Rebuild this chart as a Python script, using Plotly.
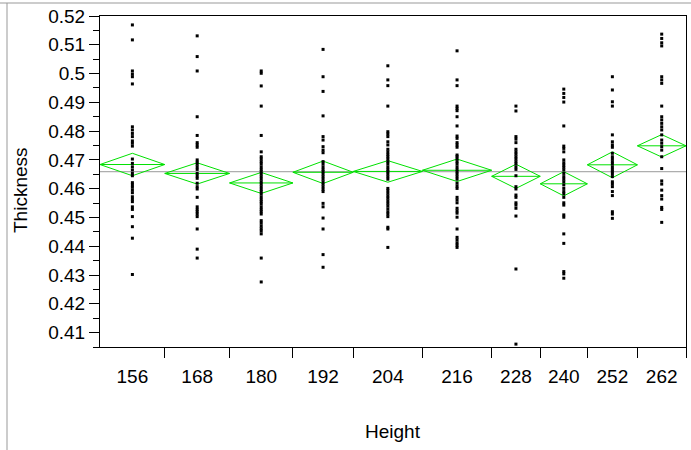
import plotly.graph_objects as go
import numpy as np

# ---------------- data ----------------
heights = ["156", "168", "180", "192", "204", "216", "228", "240", "252", "262"]
group_n = [44, 44, 43, 41, 47, 47, 33, 32, 34, 33]   # sample sizes (x axis proportional)

thk_156 = [0.5169, 0.5117, 0.5009, 0.4998, 0.4989, 0.4964, 0.4815, 0.4804, 0.4792, 0.4781,
           0.4766, 0.4758, 0.4748, 0.4703, 0.4688, 0.4676, 0.4665, 0.4653, 0.4645, 0.4621,
           0.4613, 0.4605, 0.4595, 0.4586, 0.4572, 0.4563, 0.4555, 0.4537, 0.4528, 0.4503,
           0.4468, 0.4428, 0.4302]
thk_168 = [0.5131, 0.5059, 0.5009, 0.4850, 0.4785, 0.4760, 0.4752, 0.4744, 0.4700, 0.4692,
           0.4685, 0.4676, 0.4667, 0.4653, 0.4644, 0.4636, 0.4619, 0.4607, 0.4599, 0.4570,
           0.4537, 0.4528, 0.4520, 0.4512, 0.4503, 0.4460, 0.4390, 0.4359]
thk_180 = [0.5009, 0.5001, 0.4957, 0.4887, 0.4785, 0.4728, 0.4711, 0.4703, 0.4694, 0.4686,
           0.4676, 0.4667, 0.4659, 0.4651, 0.4642, 0.4633, 0.4624, 0.4616, 0.4607, 0.4598,
           0.4590, 0.4582, 0.4572, 0.4563, 0.4555, 0.4547, 0.4537, 0.4528, 0.4520, 0.4512,
           0.4489, 0.4480, 0.4470, 0.4461, 0.4453, 0.4443, 0.4359, 0.4276]
thk_192 = [0.5084, 0.4989, 0.4938, 0.4853, 0.4781, 0.4769, 0.4746, 0.4734, 0.4725, 0.4694,
           0.4686, 0.4676, 0.4667, 0.4659, 0.4651, 0.4642, 0.4633, 0.4624, 0.4616, 0.4607,
           0.4598, 0.4590, 0.4549, 0.4537, 0.4498, 0.4460, 0.4371, 0.4327]
thk_204 = [0.5027, 0.4978, 0.4958, 0.4887, 0.4798, 0.4790, 0.4781, 0.4763, 0.4752, 0.4737,
           0.4728, 0.4719, 0.4711, 0.4703, 0.4694, 0.4686, 0.4676, 0.4667, 0.4659, 0.4651,
           0.4642, 0.4633, 0.4601, 0.4593, 0.4584, 0.4575, 0.4567, 0.4558, 0.4549, 0.4540,
           0.4530, 0.4520, 0.4512, 0.4503, 0.4466, 0.4460, 0.4396]
thk_216 = [0.5079, 0.4978, 0.4958, 0.4887, 0.4879, 0.4871, 0.4850, 0.4818, 0.4783, 0.4775,
           0.4760, 0.4752, 0.4744, 0.4717, 0.4711, 0.4703, 0.4694, 0.4686, 0.4676, 0.4667,
           0.4659, 0.4651, 0.4642, 0.4633, 0.4619, 0.4609, 0.4601, 0.4570, 0.4561, 0.4551,
           0.4532, 0.4523, 0.4515, 0.4501, 0.4460, 0.4431, 0.4422, 0.4412, 0.4404, 0.4396]
thk_228 = [0.4887, 0.4870, 0.4781, 0.4772, 0.4760, 0.4737, 0.4728, 0.4720, 0.4711, 0.4703,
           0.4694, 0.4686, 0.4676, 0.4667, 0.4645, 0.4607, 0.4599, 0.4578, 0.4570, 0.4551,
           0.4543, 0.4532, 0.4505, 0.4321, 0.4060]
thk_240 = [0.4946, 0.4931, 0.4917, 0.4901, 0.4818, 0.4748, 0.4740, 0.4728, 0.4700, 0.4690,
           0.4682, 0.4674, 0.4665, 0.4653, 0.4642, 0.4633, 0.4624, 0.4613, 0.4601, 0.4590,
           0.4582, 0.4570, 0.4551, 0.4543, 0.4509, 0.4501, 0.4443, 0.4410, 0.4312, 0.4304,
           0.4289]
thk_252 = [0.4989, 0.4943, 0.4902, 0.4887, 0.4787, 0.4763, 0.4752, 0.4744, 0.4723, 0.4711,
           0.4703, 0.4694, 0.4686, 0.4676, 0.4667, 0.4659, 0.4651, 0.4642, 0.4624, 0.4616,
           0.4607, 0.4590, 0.4576, 0.4520, 0.4512, 0.4497]
thk_262 = [0.5137, 0.5122, 0.5107, 0.5096, 0.4989, 0.4978, 0.4966, 0.4887, 0.4850, 0.4839,
           0.4827, 0.4815, 0.4804, 0.4787, 0.4769, 0.4758, 0.4746, 0.4734, 0.4711, 0.4670,
           0.4627, 0.4616, 0.4595, 0.4576, 0.4564, 0.4535, 0.4528, 0.4483]

group_values = [thk_156, thk_168, thk_180, thk_192, thk_204,
                thk_216, thk_228, thk_240, thk_252, thk_262]

group_means = [0.4684, 0.4653, 0.4620, 0.4657, 0.4660, 0.4664, 0.4643, 0.4617, 0.4683, 0.4749]
ci_half = [0.0039, 0.0037, 0.00365, 0.0039, 0.00375, 0.0039, 0.0042, 0.0042, 0.0045, 0.0039]
grand_mean = 0.4659

y_tick_vals = [0.41, 0.42, 0.43, 0.44, 0.45, 0.46, 0.47, 0.48, 0.49, 0.50, 0.51, 0.52]
y_tick_text = ["0.41", "0.42", "0.43", "0.44", "0.45", "0.46", "0.47", "0.48", "0.49", "0.5", "0.51", "0.52"]

# ---------------- derived geometry ----------------
bounds = np.concatenate([[0], np.cumsum(group_n)]).astype(float)
centers = (bounds[:-1] + bounds[1:]) / 2
total = bounds[-1]

FONT = "Arial, Liberation Sans, sans-serif"
FS = 19
GREEN = "rgb(0,225,0)"

fig = go.Figure()

# grand mean line
fig.add_trace(go.Scatter(x=[0, total], y=[grand_mean, grand_mean], mode="lines",
                         line=dict(color="#9a9a9a", width=1), hoverinfo="skip",
                         showlegend=False))

# mean diamonds
dx, dy, mx, my = [], [], [], []
for i in range(len(heights)):
    l, r, c = bounds[i], bounds[i + 1], centers[i]
    m, h = group_means[i], ci_half[i]
    dx += [l, c, r, c, l, None]
    dy += [m, m + h, m, m - h, m, None]
    mx += [l, r, None]
    my += [m, m, None]
fig.add_trace(go.Scatter(x=dx, y=dy, mode="lines", line=dict(color=GREEN, width=1),
                         hoverinfo="skip", showlegend=False))
fig.add_trace(go.Scatter(x=mx, y=my, mode="lines", line=dict(color=GREEN, width=1),
                         hoverinfo="skip", showlegend=False))

# points (on the labelled overlay axis, same range)
for i, vals in enumerate(group_values):
    fig.add_trace(go.Scatter(x=[centers[i]] * len(vals), y=vals, mode="markers",
                             xaxis="x2",
                             marker=dict(symbol="square", size=3, color="black",
                                         line=dict(width=0)),
                             name=heights[i], showlegend=False))

fig.update_layout(
    width=691, height=450,
    margin=dict(l=100, r=5, t=16, b=103),
    paper_bgcolor="white", plot_bgcolor="white",
    font=dict(family=FONT, size=FS, color="black"),
    xaxis=dict(range=[0, total], tickmode="array", tickvals=list(bounds[1:]),
               ticktext=[""] * len(bounds[1:]), ticks="outside", ticklen=10,
               tickcolor="black", tickwidth=1, showline=True, linecolor="black",
               linewidth=1, mirror=True, showgrid=False, zeroline=False),
    xaxis2=dict(range=[0, total], overlaying="x", side="bottom", tickmode="array",
                tickvals=list(centers), ticktext=heights, ticks="outside", ticklen=12,
                tickcolor="rgba(0,0,0,0)", showline=False, showgrid=False,
                zeroline=False, tickfont=dict(family=FONT, size=FS, color="black")),
    yaxis=dict(range=[0.405, 0.52], tickmode="array", tickvals=y_tick_vals,
               ticktext=y_tick_text, ticks="outside", ticklen=10, tickcolor="black",
               minor=dict(dtick=0.005, ticks="outside", ticklen=6, tickcolor="black"),
               showline=True, linecolor="black", linewidth=1, mirror=True,
               showgrid=False, zeroline=False,
               tickfont=dict(family=FONT, size=FS, color="black")),
    annotations=[
        dict(text="Height", xref="paper", yref="paper", x=0.5, y=(347 - 431) / 331,
             xanchor="center", yanchor="middle", showarrow=False,
             font=dict(family=FONT, size=FS, color="black")),
        dict(text="Thickness", xref="paper", yref="paper", x=(20 - 100) / 586,
             y=(347 - 190) / 331, xanchor="center", yanchor="middle", textangle=-90,
             showarrow=False, font=dict(family=FONT, size=FS, color="black")),
    ],
    shapes=[
        dict(type="line", xref="paper", yref="paper", x0=(7 - 100) / 586, x1=(7 - 100) / 586,
             y0=(347 - 3) / 331, y1=(347 - 451) / 331, line=dict(color="#999999", width=1)),
        dict(type="line", xref="paper", yref="paper", x0=(0 - 100) / 586, x1=(691 - 100) / 586,
             y0=(347 - 3) / 331, y1=(347 - 3) / 331, line=dict(color="#999999", width=1)),
    ],
)

fig.write_html("out.html")
